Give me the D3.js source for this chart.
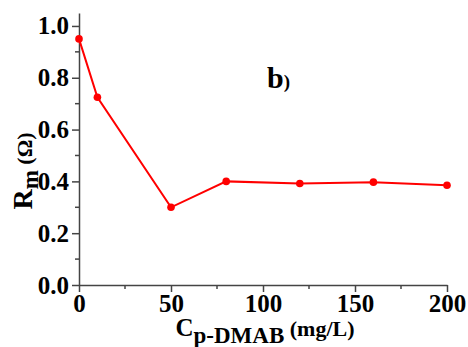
<!DOCTYPE html>
<html lang="en">
  <head>
    <meta charset="utf-8">
    <title>Rm vs C p-DMAB</title>
    <style>
      body { margin: 0; background: #fff; }
      svg text { font-family: "Liberation Serif", "Times New Roman", serif; font-weight: bold; }
    </style>
  </head>
  <body>
    <svg class="chart"></svg>

    <script src="https://d3js.org/d3.v7.min.js"></script>
    <script type="text/javascript">
      // data
      var conc = [0, 10, 50, 80, 120, 160, 200];
      var rm = [0.95, 0.725, 0.30, 0.40, 0.392, 0.397, 0.385];
      var xTicks = [0, 50, 100, 150, 200];
      var yTicks = [0.0, 0.2, 0.4, 0.6, 0.8, 1.0];

      var w = 468, h = 347;
      var svg = d3.select('.chart').attr('width', w).attr('height', h);

      var x = d3.scaleLinear().domain([0, 200]).range([79, 447]);
      var y = d3.scaleLinear().domain([0, 1.05]).range([285, 13]);
      var axisColor = '#444';

      // minor ticks
      svg.selectAll('.xminor')
         .data(d3.range(25, 200, 50))
         .enter().append('line')
         .attr('x1', function(d) { return x(d); })
         .attr('x2', function(d) { return x(d); })
         .attr('y1', y(0)).attr('y2', y(0) + 4)
         .attr('stroke', axisColor).attr('stroke-width', 1.5);
      svg.selectAll('.yminor')
         .data([0.1, 0.3, 0.5, 0.7, 0.9])
         .enter().append('line')
         .attr('x1', x(0) - 4).attr('x2', x(0))
         .attr('y1', function(d) { return y(d); })
         .attr('y2', function(d) { return y(d); })
         .attr('stroke', axisColor).attr('stroke-width', 1.5);

      var xAxis = svg.append('g')
         .attr('transform', 'translate(0,' + y(0) + ')')
         .call(d3.axisBottom(x).tickValues(xTicks).tickSize(7).tickPadding(2).tickSizeOuter(0));
      var yAxis = svg.append('g')
         .attr('transform', 'translate(' + x(0) + ',0)')
         .call(d3.axisLeft(y).tickValues(yTicks).tickFormat(d3.format('.1f')).tickSize(7).tickPadding(3).tickSizeOuter(0));

      [xAxis, yAxis].forEach(function(g) {
        g.attr('font-family', 'Liberation Serif').attr('font-size', 25).attr('font-weight', 'bold');
        g.select('.domain').attr('stroke', axisColor).attr('stroke-width', 1.5);
        g.selectAll('.tick line').attr('stroke', axisColor).attr('stroke-width', 1.5);
        g.selectAll('.tick text').attr('fill', '#000');
      });

      var pts = conc.map(function(c, i) { return [c, rm[i]]; });
      var line = d3.line()
                   .x(function(d) { return x(d[0]); })
                   .y(function(d) { return y(d[1]); });

      svg.append('path')
         .datum(pts)
         .attr('d', line)
         .attr('fill', 'none')
         .attr('stroke', '#ff0000')
         .attr('stroke-width', 2);

      svg.selectAll('circle')
         .data(pts)
         .enter()
         .append('circle')
         .attr('cx', function(d) { return x(d[0]); })
         .attr('cy', function(d) { return y(d[1]); })
         .attr('r', 3.8)
         .attr('fill', '#ff0000');

      // panel letter
      var b = svg.append('text').attr('x', 267).attr('y', 88).style('font-size', '30px');
      b.append('tspan').text('b');
      b.append('tspan').style('font-size', '19px').text(')');

      // x label
      var xl = svg.append('text')
         .attr('x', 265).attr('y', 336)
         .attr('text-anchor', 'middle')
         .style('font-size', '25px');
      xl.append('tspan').text('C');
      xl.append('tspan').attr('dy', 7).style('font-size', '23px').text('p-DMAB');
      xl.append('tspan').attr('dy', -7).style('font-size', '22px').text(' (mg/L)');

      // y label
      var yl = svg.append('text')
         .attr('transform', 'translate(32,171) rotate(-90)')
         .attr('text-anchor', 'middle')
         .style('font-size', '28px');
      yl.append('tspan').text('R');
      yl.append('tspan').attr('dy', 6).style('font-size', '23px').text('m');
      yl.append('tspan').attr('dy', -6).style('font-size', '22px').text(' (Ω)');
    </script>
  </body>
</html>
